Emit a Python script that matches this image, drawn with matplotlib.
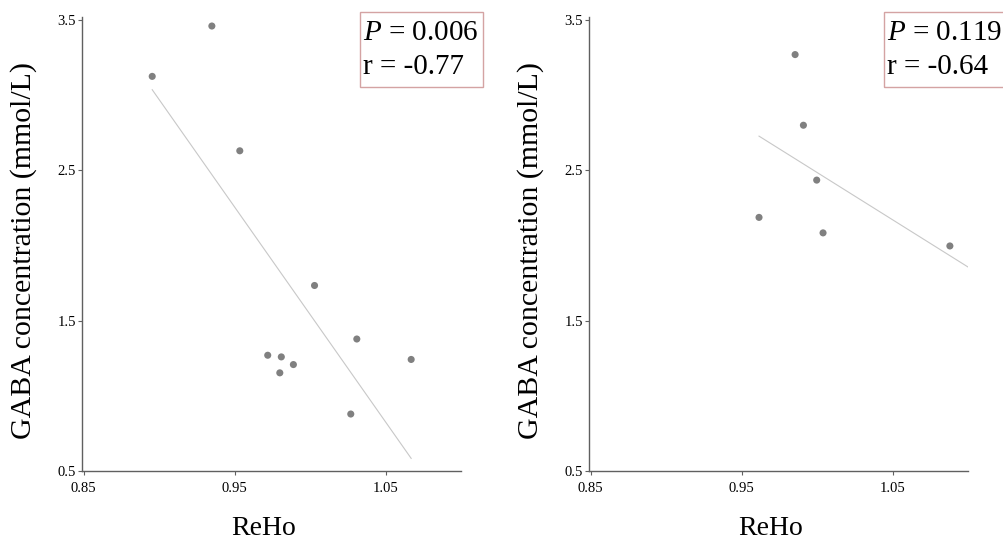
import numpy as np
import matplotlib
matplotlib.use("Agg")
import matplotlib.pyplot as plt
from matplotlib.patches import Rectangle

# === Data ===
reho_a = [0.8955, 0.935, 0.9535, 1.003, 1.031, 0.972, 0.981, 0.989, 0.980, 1.067, 1.027]
gaba_a = [3.125, 3.46, 2.63, 1.734, 1.378, 1.27, 1.259, 1.208, 1.153, 1.242, 0.879]
fit_a = (-14.30, 15.842)          # slope, intercept of the drawn trend line
stats_a = ("0.006", "-0.77")

reho_b = [0.9855, 0.991, 0.9998, 0.9616, 1.004, 1.088]
gaba_b = [3.27, 2.80, 2.435, 2.187, 2.084, 1.997]
fit_b = (-6.29, 8.776)
stats_b = ("0.119", "-0.64")

xticks = [0.85, 0.95, 1.05]
yticks = [0.5, 1.5, 2.5, 3.5]

plt.rcParams['font.family'] = ['Liberation Serif', 'DejaVu Serif']
plt.rcParams['mathtext.fontset'] = 'custom'
plt.rcParams['mathtext.rm'] = 'Liberation Serif'
plt.rcParams['mathtext.it'] = 'Liberation Serif:italic'

AXIS_COL = '#606060'
DOT_COL = '#808080'
LINE_COL = '#c8c8c8'
BOX_COL = '#d4a3a3'

W, H = 1004, 543
fig = plt.figure(figsize=(W / 100, H / 100), dpi=100)


def panel(left, x, y, fit, extend_to_edge):
    ax = fig.add_axes([left, 1 - 471 / H, 379 / W, 454 / H])
    ax.set_xlim(0.849, 1.10)
    ax.set_ylim(0.5, 3.52)
    for s in ['top', 'right']:
        ax.spines[s].set_visible(False)
    for s in ['left', 'bottom']:
        ax.spines[s].set_color(AXIS_COL)
        ax.spines[s].set_linewidth(1.0)
    ax.set_xticks(xticks)
    ax.set_yticks(yticks)
    ax.set_xticklabels([f"{t:.2f}" for t in xticks])
    ax.set_yticklabels([f"{t:.1f}" for t in yticks])
    ax.tick_params(length=3, width=0.8, color=AXIS_COL, labelsize=10.5)
    ax.tick_params(axis='x', pad=5)
    ax.tick_params(axis='y', pad=1.5)

    # trend line
    k, b = fit
    x0 = min(x)
    x1 = ax.get_xlim()[1] if extend_to_edge else max(x)
    xs = np.array([x0, x1])
    ax.plot(xs, k * xs + b, color=LINE_COL, lw=0.8, zorder=1)
    ax.scatter(x, y, s=26, color=DOT_COL, edgecolors='none', zorder=2)

    ax.set_ylabel("GABA concentration (mmol/L)", fontsize=21.5)
    ax.yaxis.set_label_coords(-0.12, 0.485)
    ax.set_xlabel("ReHo", fontsize=20)
    ax.xaxis.set_label_coords(0.478, -0.10)
    return ax


ax1 = panel(82 / W, reho_a, gaba_a, fit_a, False)
ax2 = panel(589 / W, reho_b, gaba_b, fit_b, True)

# stats boxes
for box_left, st in [(360, stats_a), (884, stats_b)]:
    fig.patches.append(Rectangle((box_left / W, 1 - 87 / H), 123 / W, 75 / H,
                                 transform=fig.transFigure, fill=False,
                                 ec=BOX_COL, lw=1.0))
    fig.text((box_left + 3) / W, 1 - 40 / H, f"$P$ = {st[0]}", fontsize=21,
             ha='left', va='baseline')
    fig.text((box_left + 3) / W, 1 - 74 / H, f"r = {st[1]}", fontsize=21,
             ha='left', va='baseline')

fig.savefig("out.png", dpi=100)
